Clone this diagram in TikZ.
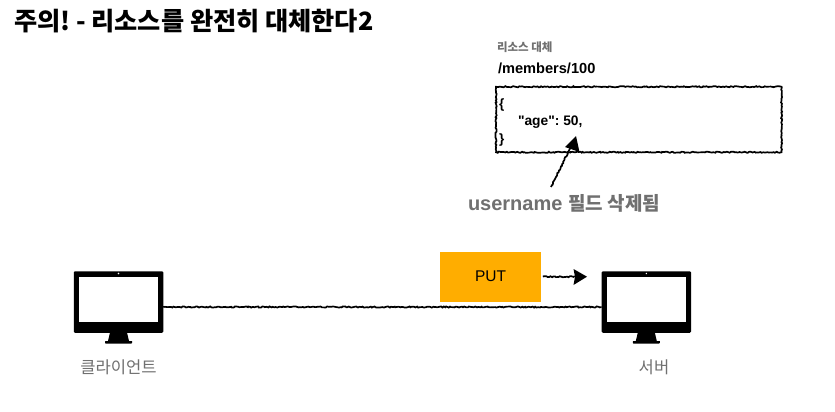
\documentclass[tikz,border=0pt]{standalone}
\usepackage{fontspec}
\setmainfont{Liberation Sans}
\newfontfamily\plain{Liberation Sans}
\newfontfamily\kr{Noto Sans CJK KR}
\usetikzlibrary{decorations.pathmorphing,arrows.meta,calc}
\definecolor{putorange}{HTML}{FFAD00}
\definecolor{softgray}{HTML}{707070}
\tikzset{
  x=1pt,y=-1pt,
  lbl/.style={inner sep=0pt,outer sep=0pt,anchor=base west,align=left},
  rough/.style={decorate,decoration={random steps,segment length=1.5pt,amplitude=.6pt},line width=1.7pt,black},
  screenbody/.style={fill=black,rounded corners=1.2pt,minimum width=89.5pt,minimum height=61.5pt,inner sep=0pt,outer sep=0pt},
}
\newcommand{\monitor}[3]{%
  \node[screenbody] (#1) at (#2,#3) {};
  \fill[white] ($(#1.center)+(-39.8,-25.3)$) rectangle ($(#1.center)+(39.8,20.3)$);
  \fill[white] ($(#1.center)+(0,-28.5)$) circle (.8pt);
  \fill[black] ($(#1.center)+(-8.5,30.5)$) -- ($(#1.center)+(8.5,30.5)$) -- ($(#1.center)+(10.5,39)$) -- ($(#1.center)+(13.5,39)$) [rounded corners=.6pt] -- ($(#1.center)+(13.5,41.5)$) -- ($(#1.center)+(-13.5,41.5)$) -- ($(#1.center)+(-13.5,39)$) [sharp corners] -- ($(#1.center)+(-10.5,39)$) -- cycle;
}
\begin{document}
\begin{tikzpicture}
\frenchspacing
\useasboundingbox (0,0) rectangle (835,412);
\fill[white] (0,0) rectangle (835,412);
\node[lbl] (title) at (14,30.5) {\fontsize{25.2}{29}\selectfont\bfseries\kr 주의! - 리소스를 완전히 대체한다2};
\node[lbl,text=softgray] (cap) at (497,51.5) {\fontsize{11.5}{13}\selectfont\bfseries\kr 리소스 대체};
\node[lbl] (path) at (498,73.5) {\fontsize{14.6}{17}\selectfont\textbf{/members/100}};
\node[inner sep=0pt,outer sep=0pt,minimum width=285.5pt,minimum height=65.5pt] (res) at (638.8,119.5) {};
\draw[rough] (res.north west) rectangle (res.south east);
\node[lbl] (l1) at (499,108) {\fontsize{13.5}{16}\selectfont\textbf{\{}};
\node[lbl] (l2) at (518,125) {\fontsize{13.8}{16}\selectfont{\plain\bfseries "age": 50,}};
\node[lbl] (l3) at (499,143) {\fontsize{13.5}{16}\selectfont\textbf{\}}};
\node[lbl,text=softgray] (note) at (468,210) {\fontsize{20}{24}\selectfont\textbf{username}\hspace{6pt}{\fontsize{19}{24}\selectfont\bfseries\kr 필드 삭제됨}};
\coordinate (noteTop) at (551,187);
\coordinate (age) at (576,136);
\draw[rough] (noteTop) -- ($(noteTop)!0.8!(age)$);
\fill[black] (age) -- (579.5,152) -- (565,147) -- cycle;
\monitor{client}{118.5}{302}
\monitor{server}{646.3}{302}
\node[lbl,anchor=base,text=softgray] (clientLbl) at (118.5,373) {\fontsize{16.6}{20}\selectfont\kr 클라이언트};
\node[lbl,anchor=base,text=softgray] (serverLbl) at (654,373) {\fontsize{16.6}{20}\selectfont\kr 서버};
\draw[rough] (client.east |- 0,307) -- (server.west |- 0,307);
\node[fill=putorange,minimum width=101pt,minimum height=50pt,inner sep=0pt,outer sep=0pt] (put) at (490.5,276.7) {\fontsize{15.5}{18}\selectfont PUT};
\coordinate (putEnd) at (587,276.7);
\draw[rough] ($(put.east)+(2,0)$) -- ($(putEnd)+(-10,0)$);
\fill[black] (573.5,269) -- (587,276.7) -- (573.5,285) -- (575,276.7) -- cycle;
\end{tikzpicture}
\end{document}
